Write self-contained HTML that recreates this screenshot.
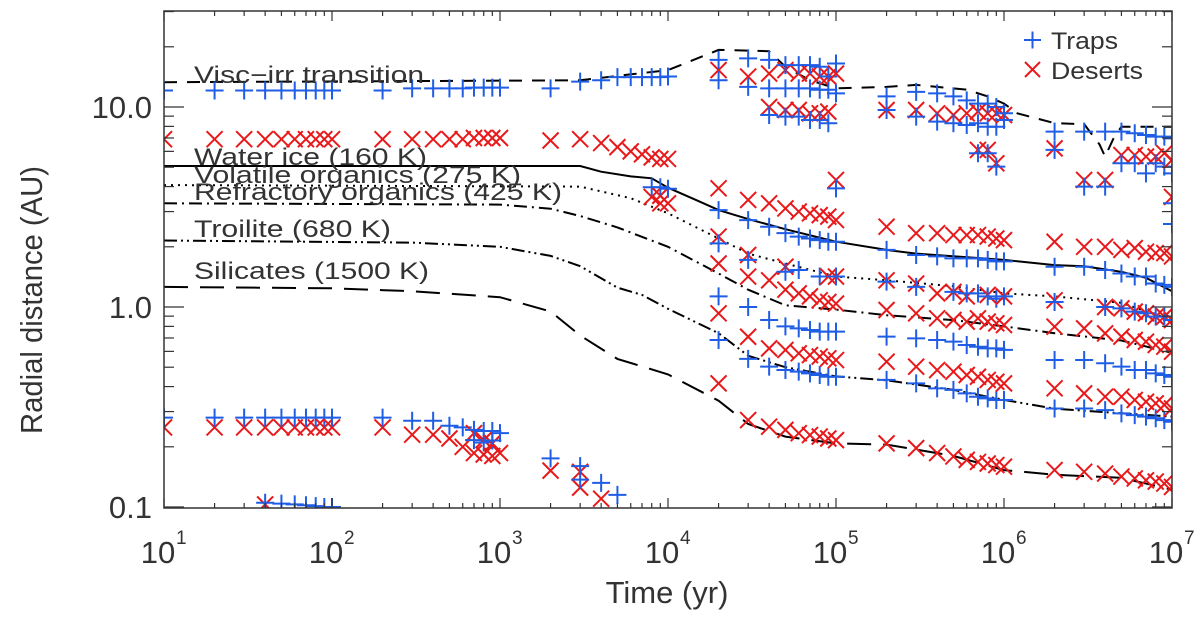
<!DOCTYPE html>
<html><head><meta charset="utf-8"><style>
html,body{margin:0;padding:0;background:#fff;}
svg{display:block;font-family:"Liberation Sans",sans-serif;}
</style></head><body>
<svg id="chart" width="1200" height="619" viewBox="0 0 1200 619" xmlns="http://www.w3.org/2000/svg">
<defs><clipPath id="clip"><rect x="164" y="11" width="1008" height="497"/></clipPath></defs>
<rect x="0" y="0" width="1200" height="619" fill="#fff"/>
<g id="lines" clip-path="url(#clip)"></g>
<g id="marks" clip-path="url(#clip)"></g>
<g id="axes"></g>
<g id="labels"></g>
<text transform="translate(42,300) rotate(-90)" text-anchor="middle" font-size="31" fill="#333" textLength="268" lengthAdjust="spacingAndGlyphs">Radial distance (AU)</text>
<text x="667" y="603" text-anchor="middle" font-size="31" fill="#333">Time (yr)</text>
<g>
  <g>
    <path d="M1024 40 H1041 M1032.5 31.5 V48.5" stroke="#1f5de6" stroke-width="2"/>
    <text x="1051" y="49" font-size="24" fill="#333" textLength="67" lengthAdjust="spacingAndGlyphs">Traps</text>
  </g>
  <g>
    <path d="M1025 62 L1040 77 M1040 62 L1025 77" stroke="#e8191a" stroke-width="2"/>
    <text x="1051" y="79" font-size="24" fill="#333" textLength="92" lengthAdjust="spacingAndGlyphs">Deserts</text>
  </g>
</g>
</svg>
<script>
const xTickLabels = ["1","2","3","4","5","6","7"];
const yTickValues = [0.1, 1.0, 10.0];
const yTickLabels = ["0.1", "1.0", "10.0"];
const times = [10,20,30,40,50,60,70,80,90,100,200,300,400,500,600,700,800,900,1000,2000,3000,4000,5000,6000,7000,8000,9000,1e4,2e4,3e4,4e4,5e4,6e4,7e4,8e4,9e4,1e5,2e5,3e5,4e5,5e5,6e5,7e5,8e5,9e5,1e6,2e6,3e6,4e6,5e6,6e6,7e6,8e6,9e6,1e7];
const trapsAU = [
 [12.1,0.28],[12.1,0.28],[12.1,0.28],[12.1,0.28,0.105],[12.1,0.28,0.104],[12.1,0.28,0.103],[12.1,0.28,0.102],[12.1,0.28,0.101],[12.1,0.28,0.1],[12.1,0.28,0.1],
 [12.1,0.28],[12.4,0.27],[12.4,0.27],[12.4,0.255],[12.4,0.25],[12.5,0.243,0.216],[12.5,0.24,0.21],[12.5,0.24,0.215],[12.5,0.234],
 [12.4,0.175],[13.4,0.16,0.137],[13.6,0.132],[14.1,0.115],[14.1],[14.1],[14.1,3.97],[14.1,3.97],[14.2,3.9],
 [17.2,13.6,3.05,2.08,1.13,0.684],[17.5,12.6,2.72,1.72,1.0,0.55],[17.2,12.4,9.12,2.52,0.861,0.503],[16.2,12.4,8.95,2.34,1.50,0.80,0.484],[16.2,12.4,8.95,2.25,1.53,0.782,0.475],[16.2,12.4,8.61,2.20,0.767,0.466],[15.9,12.2,8.61,2.16,1.42,0.753,0.457],[14.2,12.2,8.29,2.12,0.753,0.448],[16.5,11.7,3.92,2.12,1.42,0.753,0.448],
 [11.3,9.66,1.93,1.34,0.711,0.432],[11.9,8.95,1.82,1.26,0.697,0.415],[11.7,8.45,1.79,0.684,0.392],[11.3,8.29,1.75,1.19,0.671,0.385],[10.8,8.13,1.75,1.17,0.646,0.370],[10.4,8.29,5.87,1.75,1.17,0.633,0.356],[10.4,7.97,5.87,1.72,1.13,0.621,0.349],[10.0,7.97,5.03,1.69,1.10,0.621,0.343],[9.30,8.61,1.69,1.13,0.610,0.343],
 [7.53,6.10,1.59,1.06,0.543,0.311],[7.53,4.00,1.59,0.543,0.311],[7.53,4.00,1.53,1.00,0.523,0.305],[7.53,5.23,1.47,0.985,0.503,0.294],[7.39,5.23,1.42,0.948,0.484,0.288],[7.24,4.66,1.42,0.93,0.484,0.283],[7.11,5.23,1.31,0.895,0.466,0.278],[7.11,5.03,1.29,0.895,0.457,0.272],[6.97,4.66,3.30,2.6,1.26,0.861,0.448,0.267]
];
const desertsAU = [
 [6.9,0.25],[6.9,0.25],[6.9,0.25],[6.9,0.25,0.103],[6.9,0.25],[6.9,0.25],[6.9,0.25],[6.9,0.25],[6.9,0.25],[6.9,0.25],
 [6.9,0.25],[6.9,0.23],[6.9,0.23],[6.9,0.22],[6.9,0.20],[7.0,0.234,0.186],[7.0,0.216,0.183],[7.0,0.208,0.18],[7.0,0.186],
 [6.8,0.152],[6.9,0.15,0.125],[6.6,0.11],[6.3],[6.0],[5.8],[5.6,3.55],[5.5,3.6,3.3],[5.5,3.3],
 [15.3,3.92,2.25,1.65,0.93,0.415],[14.2,3.43,1.82,1.42,0.71,0.272],[14.7,10.0,3.30,1.36,0.621,0.252],[15.3,9.66,3.11,1.59,1.22,0.610,0.243],[14.7,9.66,3.00,1.17,0.587,0.234],[14.7,9.30,2.94,1.13,0.575,0.229],[14.2,9.30,2.88,1.08,0.565,0.225],[14.2,9.48,2.83,1.42,1.06,0.554,0.220],[14.7,4.32,2.72,1.42,1.04,0.543,0.216],
 [9.66,2.52,1.36,0.966,0.533,0.208],[9.66,2.34,1.31,0.93,0.503,0.197],[9.30,2.34,1.17,0.878,0.484,0.186],[9.12,2.29,1.19,0.861,0.475,0.179],[9.30,2.29,1.13,0.845,0.457,0.172],[9.48,6.10,2.29,0.878,0.448,0.168],[9.30,6.10,2.25,1.15,0.845,0.432,0.165],[9.30,5.23,2.20,0.829,0.423,0.162],[9.12,2.16,1.13,0.813,0.415,0.159],
 [6.21,2.12,1.08,0.797,0.392,0.153],[4.32,2.00,0.782,0.370,0.150],[4.32,2.00,1.00,0.738,0.356,0.147],[5.75,1.93,0.985,0.711,0.356,0.142],[5.75,1.97,0.948,0.684,0.343,0.139],[5.65,1.89,0.93,0.671,0.336,0.136],[5.65,1.86,0.895,0.646,0.330,0.134],[5.87,1.86,0.895,0.633,0.324,0.131],[5.43,3.55,1.79,0.861,0.598,0.311,0.126]
];
const viscT = [10,3000,5000,1e4,2e4,4e4,5e4,7e4,1e5,2e5,3e5,6e5,8e5,1e6,1.2e6,2e6,3e6,3.7e6,4e6,4.5e6,5e6,1e7];
const viscR = [13.3,13.6,14.3,15.3,19.3,19.0,15.9,13.6,12.4,12.6,12.9,12.2,11.3,10.4,9.3,8.3,8.2,6.5,5.65,7.0,7.97,7.97];
const waterT = [10,3000,4000,6000,8000,1e4,1.5e4,2e4,3e4,5e4,1e5,2e5,3e5,1e6,2e6,3e6,5e6,7e6,1e7];
const waterR = [5.07,5.07,4.75,4.5,4.4,3.95,3.4,3.05,2.75,2.45,2.12,1.93,1.85,1.72,1.62,1.6,1.5,1.4,1.2];
const volT = [10,3000,6000,1e4,2e4,3e4,5e4,1e5,2e5,5e5,1e6,2e6,5e6,1e7];
const volR = [4.07,4.0,3.5,2.94,2.2,1.85,1.65,1.42,1.36,1.27,1.17,1.13,1.05,0.86];
const refT = [10,1000,2000,3000,5000,1e4,2e4,3e4,5e4,1e5,2e5,5e5,1e6,2e6,5e6,1e7];
const refR = [3.30,3.25,3.1,2.85,2.5,2.0,1.47,1.22,1.02,0.97,0.91,0.86,0.8,0.74,0.68,0.59];
const troT = [10,300,1000,2000,3000,5000,7000,1e4,2e4,3e4,5e4,1e5,2e5,5e5,1e6,2e6,5e6,1e7];
const troR = [2.15,2.1,2.0,1.8,1.6,1.25,1.15,0.98,0.74,0.57,0.5,0.45,0.43,0.385,0.343,0.31,0.294,0.283];
const silT = [10,100,300,1000,2000,3000,5000,1e4,2e4,3e4,5e4,1e5,2e5,5e5,1e6,2e6,5e6,1e7];
const silR = [1.26,1.24,1.2,1.12,0.95,0.72,0.55,0.46,0.34,0.26,0.225,0.208,0.205,0.18,0.153,0.145,0.14,0.122];

const NS="http://www.w3.org/2000/svg";
const X0=164, XD=168, Y1=307, YD=200;
function xs(t){return X0+XD*(Math.log10(t)-1);}
function ys(v){return Y1-YD*Math.log10(v);}
function mk(tag,attrs,parent){const e=document.createElementNS(NS,tag);for(const k in attrs)e.setAttribute(k,attrs[k]);parent.appendChild(e);return e;}

const gl=document.getElementById('lines');
function drawLine(T,R,dash,name){
  const d=T.map((t,i)=>(i?'L':'M')+xs(t).toFixed(1)+' '+ys(R[i]).toFixed(1)).join(' ');
  const p=mk('path',{d:d,fill:'none',stroke:'#000','stroke-width':2,'stroke-dasharray':dash},gl);
  
  
}
drawLine(viscT,viscR,'13 10','visc-irr-line');
drawLine(waterT,waterR,'none','water-ice-line');
drawLine(volT,volR,'2 5','volatile-organics-line');
drawLine(refT,refR,'13 5 2 5','refractory-organics-line');
drawLine(troT,troR,'13 4 2 4 2 4','troilite-line');
drawLine(silT,silR,'24 12','silicates-line');

const gm=document.getElementById('marks');
times.forEach((t,i)=>{
  const x=xs(t);
  desertsAU[i].forEach(v=>{
    const y=ys(v);
    const p=mk('path',{d:`M${x-8} ${y-8} L${x+8} ${y+8} M${x+8} ${y-8} L${x-8} ${y+8}`,stroke:'#e8191a','stroke-width':2},gm);
    
    
  });
  trapsAU[i].forEach(v=>{
    const y=ys(v);
    const p=mk('path',{d:`M${x-9} ${y} L${x+9} ${y} M${x} ${y-9} L${x} ${y+9}`,stroke:'#1f5de6','stroke-width':2},gm);
    
    
  });
});

const ga=document.getElementById('axes');
const fr=mk('rect',{x:164,y:11,width:1008,height:497,fill:'none',stroke:'#333','stroke-width':1.5},ga);


for(let e=1;e<=7;e++){
  for(let m=1;m<=9;m++){
    if(e===7&&m>1)break;
    const x=xs(m*Math.pow(10,e));
    const L=(m===1)?10:5;
    const t1=mk('line',{x1:x,y1:508,x2:x,y2:508-L,stroke:'#333','stroke-width':1.2},ga);
    
    
    const t2=mk('line',{x1:x,y1:11,x2:x,y2:11+L,stroke:'#333','stroke-width':1.2},ga);
    
    
  }
}
xTickLabels.forEach((s,i)=>{
  const x=xs(Math.pow(10,i+1));
  const tx=mk('text',{x:x-6,y:563,'text-anchor':'middle','font-size':31,fill:'#333'},ga);
  
  
  tx.textContent='10';
  const sp=mk('text',{x:x+12,y:544,'font-size':19,fill:'#333'},ga);
  
  
  sp.textContent=s;
});
[0.1,1,10].forEach(base=>{
  for(let m=1;m<=9;m++){
    const v=base*m;
    const y=ys(v);
    if(y<11)continue;
    const L=(m===1)?20:10;
    const a=mk('line',{x1:164,y1:y,x2:164+L,y2:y,stroke:'#333','stroke-width':1.2},ga);
    
    
    const b=mk('line',{x1:1172,y1:y,x2:1172-L,y2:y,stroke:'#333','stroke-width':1.2},ga);
    
    
  }
});
yTickValues.forEach((v,i)=>{
  const tx=mk('text',{x:152,y:ys(v)+11,'text-anchor':'end','font-size':31,fill:'#333'},ga);
  
  
  tx.textContent=yTickLabels[i];
});

const labelText=["Visc\u2212irr transition","Water ice (160 K)","Volatile organics (275 K)","Refractory organics (425 K)","Troilite (680 K)","Silicates (1500 K)"];
const labelBase=[83,165,183,200,237,279];
const labelW=[230,233,327,368,197,235];
const labelNames=['visc-irr-label','water-ice-label','volatile-organics-label','refractory-organics-label','troilite-label','silicates-label'];
const glb=document.getElementById('labels');
labelText.forEach((s,i)=>{
  const tx=mk('text',{x:194,y:labelBase[i],'font-size':24,fill:'#333',textLength:labelW[i],lengthAdjust:'spacingAndGlyphs'},glb);
  
  
  tx.textContent=s;
});
</script>
</body></html>
